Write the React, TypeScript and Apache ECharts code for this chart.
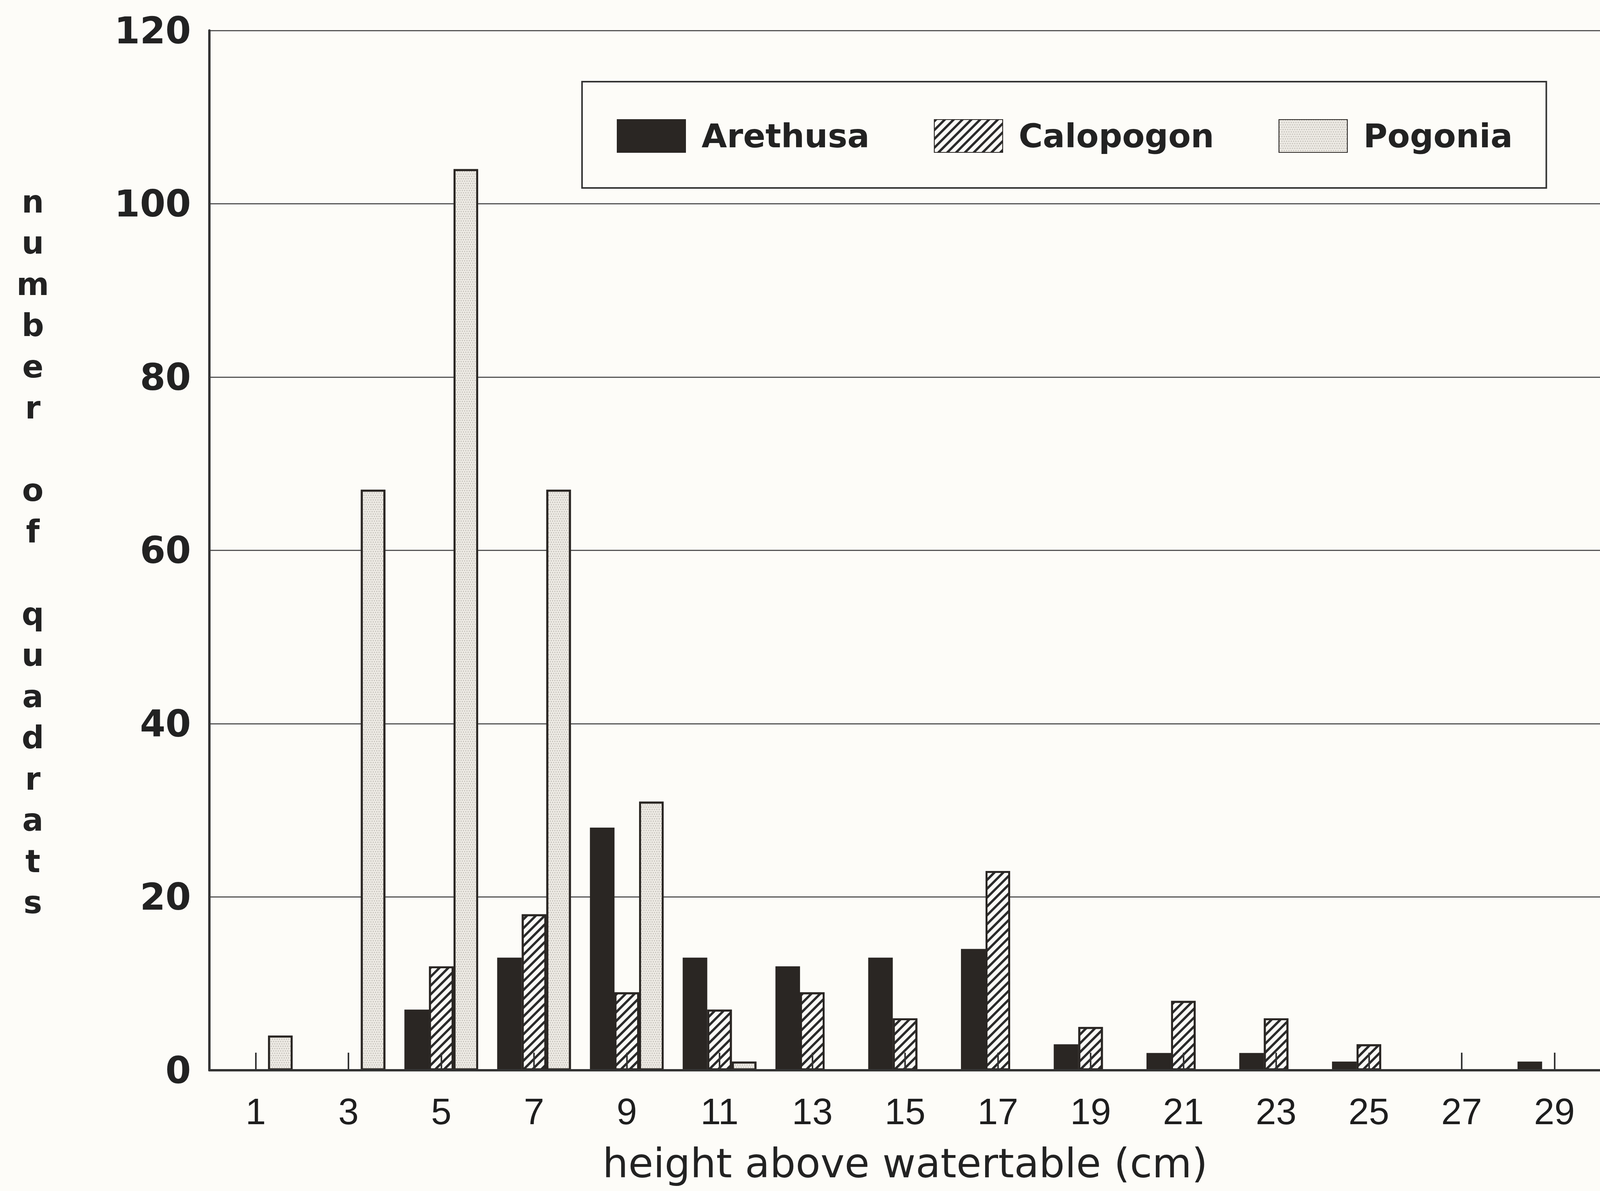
import React, { useEffect, useRef } from "react";
import * as echarts from "echarts";

const categories = ["1", "3", "5", "7", "9", "11", "13", "15", "17", "19", "21", "23", "25", "27", "29"];
const arethusa = [0, 0, 7, 13, 28, 13, 12, 13, 14, 3, 2, 2, 1, 0, 1];
const calopogon = [0, 0, 12, 18, 9, 7, 9, 6, 23, 5, 8, 6, 3, 0, 0];
const pogonia = [4, 67, 104, 67, 31, 1, 0, 0, 0, 0, 0, 0, 0, 0, 0];
const seriesNames = ["Arethusa", "Calopogon", "Pogonia"];
const yAxisTitle = "number of quadrats";
const xAxisTitle = "height above watertable (cm)";

export default function App() {
  const ref = useRef<HTMLDivElement>(null);
  useEffect(() => {
    if (!ref.current) return;
    const chart = echarts.init(ref.current, undefined, { renderer: "svg" });
    const ink = "#2a2623";
    const yLetters = yAxisTitle.split("").map((c) => (c === " " ? "" : c)).join("\n");
    const barBorder = { borderColor: ink, borderWidth: 5 };
    chart.setOption({
      animation: false,
      backgroundColor: "#fdfcf8",
      grid: { left: 536, top: 78, width: 3590, bottom: 309 },
      legend: {
        data: seriesNames,
        left: 1490,
        top: 209,
        orient: "horizontal",
        icon: "rect",
        itemWidth: 175,
        itemHeight: 84,
        itemGap: 165,
        padding: [96, 86, 90, 89],
        borderColor: "#333",
        borderWidth: 4,
        textStyle: {
          fontFamily: "DejaVu Sans",
          fontWeight: "bold",
          fontSize: 84,
          color: "#222",
          padding: [0, 0, 0, 36],
        },
      },
      xAxis: {
        type: "category",
        data: categories,
        z: 5,
        axisLine: { show: true, lineStyle: { color: "#333", width: 6 } },
        axisTick: { show: true, inside: true, alignWithLabel: true, length: 45, lineStyle: { color: "#333", width: 4 } },
        axisLabel: { fontFamily: "Liberation Sans", fontSize: 94, color: "#1e1e1e", margin: 58 },
        name: xAxisTitle,
        nameLocation: "middle",
        nameGap: 186,
        nameTextStyle: { fontFamily: "DejaVu Sans", fontSize: 104, color: "#222" },
      },
      yAxis: {
        type: "value",
        min: 0,
        max: 120,
        interval: 20,
        axisLine: { show: true, lineStyle: { color: "#333", width: 6 } },
        axisTick: { show: false },
        axisLabel: { fontFamily: "DejaVu Sans", fontWeight: "bold", fontSize: 94, color: "#222", margin: 47 },
        splitLine: { show: true, lineStyle: { color: "#555", width: 3 } },
      },
      graphic: [
        {
          type: "text",
          x: 84,
          y: 1413,
          style: {
            text: yLetters,
            align: "center",
            verticalAlign: "middle",
            fontFamily: "DejaVu Sans",
            fontWeight: "bold",
            fontSize: 80,
            lineHeight: 105.5,
            fill: "#222",
          },
        },
      ],
      series: [
        {
          name: seriesNames[0],
          type: "bar",
          data: arethusa,
          barWidth: "26.5%",
          barGap: "0%",
          itemStyle: { color: ink, ...barBorder },
        },
        {
          name: seriesNames[1],
          type: "bar",
          data: calopogon,
          barWidth: "26.5%",
          barGap: "0%",
          itemStyle: {
            color: "#fbfaf6",
            ...barBorder,
            decal: {
              symbol: "rect",
              symbolSize: 1,
              color: "#2a2a2a",
              dashArrayX: [1, 0],
              dashArrayY: [6, 10],
              rotation: -Math.PI / 4,
            },
          },
        },
        {
          name: seriesNames[2],
          type: "bar",
          data: pogonia,
          barWidth: "26.5%",
          barGap: "0%",
          itemStyle: {
            color: "#ecE9e3",
            ...barBorder,
            decal: {
              symbol: "circle",
              symbolSize: 0.8,
              color: "#a9a59e",
              dashArrayX: [[3, 3], [0, 3, 3, 0]],
              dashArrayY: [3, 3],
              rotation: 0,
            },
          },
        },
      ],
    });
    return () => chart.dispose();
  }, []);
  return <div ref={ref} style={{ position: "absolute", left: 0, top: 0, width: 4098, height: 3048 }} />;
}
